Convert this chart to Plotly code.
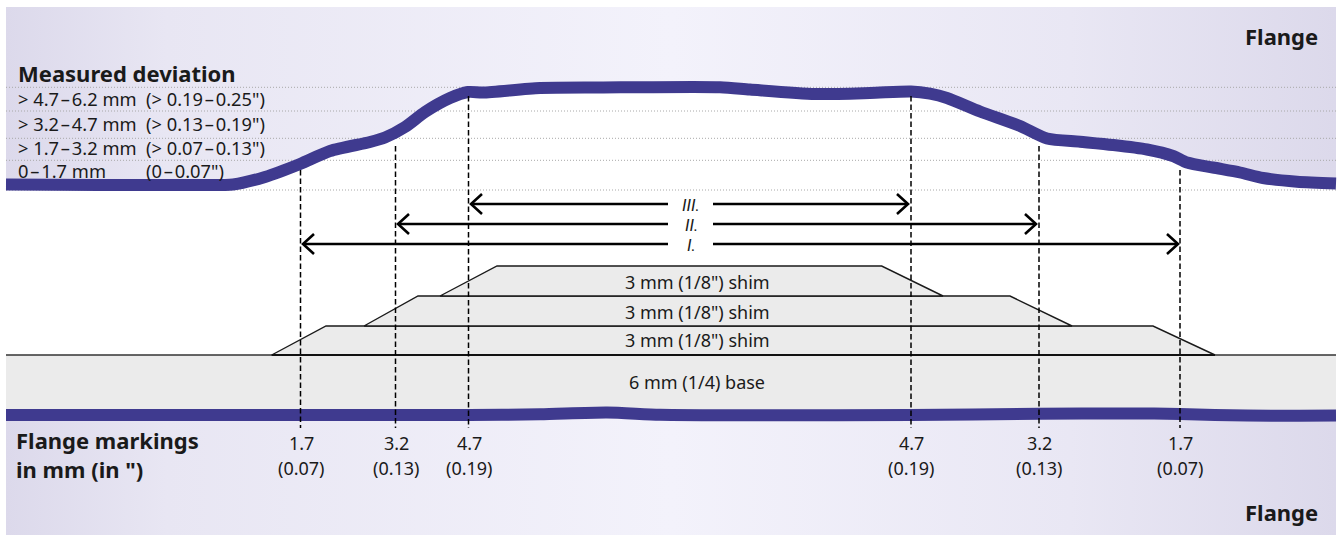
import plotly.graph_objects as go

# --- data (horizontal position / vertical position in drawing units)
top_x = [6, 100, 190, 233, 265, 300, 330, 370, 385, 405, 425, 450, 468, 483, 540, 600, 720, 750, 815, 870, 911, 930, 947, 980, 1020, 1047, 1080, 1113, 1147, 1173, 1187, 1213, 1240, 1263, 1297, 1336]
top_y = [184.5, 185, 185, 184.5, 177, 164, 151, 142, 137.5, 127, 112, 98, 92, 92.5, 88, 87.5, 87.2, 89.5, 94, 93, 91.5, 93.7, 98, 111.5, 126, 138.5, 141.7, 145, 149.5, 156, 162.5, 167.5, 172.5, 178, 181.7, 183.5]
bot_x = [6, 300, 470, 540, 607, 660, 760, 911, 1039, 1130, 1180, 1247, 1336]
bot_y = [415, 415, 415, 414.3, 412.5, 414.8, 415.3, 415, 413.8, 413.4, 414, 415.6, 415.5]

band_left, band_right = 6, 1336
page_top, page_bottom = 7, 535
base_line = 355

dotted_levels = [87.3, 111, 138.3, 160.3, 190]
legend_labels_mm = ["> 4.7\u200a–\u200a6.2 mm", "> 3.2\u200a–\u200a4.7 mm", "> 1.7\u200a–\u200a3.2 mm", "0\u200a–\u200a1.7 mm"]
legend_labels_in = ['(> 0.19\u200a–\u200a0.25")', '(> 0.13\u200a–\u200a0.19")', '(> 0.07\u200a–\u200a0.13")', '(0\u200a–\u200a0.07")']
legend_y = [98, 123, 147, 170]

mark_x = [300.5, 395.5, 468.5, 911, 1039, 1180]
mark_top = [170, 146, 96, 96, 146, 170]
mark_mm = ["1.7", "3.2", "4.7", "4.7", "3.2", "1.7"]
mark_in = ["(0.07)", "(0.13)", "(0.19)", "(0.19)", "(0.13)", "(0.07)"]
mark_bottom = 428

arrow_names = ["III.", "II.", "I."]
arrow_y = [204, 224, 244]
arrow_left = [471, 398, 303]
arrow_right = [908, 1036, 1178]
arrow_gap = (668, 713)

shim_x = [[271.7, 326, 1153, 1215], [364, 418, 1010, 1072], [440, 497, 881.7, 943]]
shim_y = [[355, 326, 326, 355], [326, 296, 296, 326], [296, 266, 266, 296]]
shim_labels = ['3 mm (1/8") shim', '3 mm (1/8") shim', '3 mm (1/8") shim']
shim_label_y = [340, 312, 282]

# --- styles
BLUE = "#3f3a8f"
GREY = "#ebebeb"
INK = "#1a1a1a"
FONT = "Noto Sans"
gradient = dict(type="horizontal",
                colorscale=[[0, "#dcd9eb"], [0.12, "#e8e6f3"], [0.5, "#f3f2fb"], [0.8, "#e9e7f4"], [1, "#dcd9eb"]])

fig = go.Figure()


def line(x, y, color=INK, width=1.3, dash="solid", shape="linear"):
    fig.add_trace(go.Scatter(x=x, y=y, mode="lines", hoverinfo="skip", showlegend=False,
                             line=dict(color=color, width=width, dash=dash, shape=shape, smoothing=0.7)))


# gradient bands
fig.add_trace(go.Scatter(x=[band_left] + top_x + [band_right], y=[page_top] + top_y + [page_top],
                         mode="none", fill="toself", fillgradient=gradient, hoverinfo="skip", showlegend=False))
fig.add_trace(go.Scatter(x=[band_left] + bot_x + [band_right], y=[page_bottom] + bot_y + [page_bottom],
                         mode="none", fill="toself", fillgradient=gradient, hoverinfo="skip", showlegend=False))
# base plate
fig.add_trace(go.Scatter(x=[band_left] + bot_x + [band_right], y=[base_line] + bot_y + [base_line],
                         mode="none", fill="toself", fillcolor=GREY, hoverinfo="skip", showlegend=False))
# shims
for sx, sy in zip(shim_x, shim_y):
    fig.add_trace(go.Scatter(x=sx + sx[:1], y=sy + sy[:1], mode="lines", fill="toself", fillcolor=GREY,
                             hoverinfo="skip", showlegend=False, line=dict(color=INK, width=1.4)))
line([band_left, band_right], [base_line, base_line], color="#333333", width=1.5)
line([shim_x[0][0], shim_x[0][3]], [base_line, base_line], color="#111111", width=1.8)

# dotted levels
for lv in dotted_levels:
    line([band_left, band_right], [lv, lv], color="#a8a8a8", width=1, dash="1px,2px")

# flange curves
line(top_x, top_y, color=BLUE, width=12, shape="spline")
line(bot_x, bot_y, color=BLUE, width=12, shape="spline")

# dashed markers
for mx, mt in zip(mark_x, mark_top):
    line([mx, mx], [mt, mark_bottom], color="#000000", width=1.5, dash="5.5px,3px")

# arrows
for y, l, r in zip(arrow_y, arrow_left, arrow_right):
    line([l, arrow_gap[0]], [y, y], color="#000000", width=2.6)
    line([arrow_gap[1], r], [y, y], color="#000000", width=2.6)
    line([l + 11, l, l + 11], [y - 10, y, y + 10], color="#000000", width=2.6)
    line([r - 11, r, r - 11], [y - 10, y, y + 10], color="#000000", width=2.6)


def text(x, y, s, size=16, bold=False, italic=False, anchor="left", family=FONT):
    if bold:
        s = f"<b>{s}</b>"
    if italic:
        s = f"<i>{s}</i>"
    fig.add_annotation(x=x, y=y, text=s, showarrow=False, xanchor=anchor, yanchor="middle", align=anchor,
                       font=dict(family=family, size=size, color=INK), borderpad=0, borderwidth=0)


text(1318, 36, "Flange", 22, bold=True, anchor="right")
text(1318, 512, "Flange", 22, bold=True, anchor="right")
text(18, 73, "Measured deviation", 22, bold=True)
text(16, 454, 'Flange markings<br>in mm (in ")', 22, bold=True)
for a, b, y in zip(legend_labels_mm, legend_labels_in, legend_y):
    text(18, y, a, 18.3)
    text(146, y, b, 18.3)
for mx, a, b in zip(mark_x, mark_mm, mark_in):
    text(mx + 0.5, 443, a, 18, anchor="center")
    text(mx + 0.5, 468, b, 18, anchor="center")
for n, y in zip(arrow_names, arrow_y):
    text(691, y + 0.5, n, 17, italic=True, anchor="center", family="Roboto")
for s, y in zip(shim_labels, shim_label_y):
    text(697, y, s, 18, anchor="center")
text(697, 382, "6 mm (1/4) base", 18, anchor="center")

fig.update_layout(width=1338, height=535, margin=dict(l=0, r=0, t=0, b=0), autosize=False,
                  paper_bgcolor="white", plot_bgcolor="white", showlegend=False,
                  xaxis=dict(range=[0, 1338], visible=False, fixedrange=True),
                  yaxis=dict(range=[535, 0], visible=False, fixedrange=True))
fig.write_html("out.html", config={"displayModeBar": False},
               post_script="document.body.style.margin='0';document.body.style.overflow='hidden';")
